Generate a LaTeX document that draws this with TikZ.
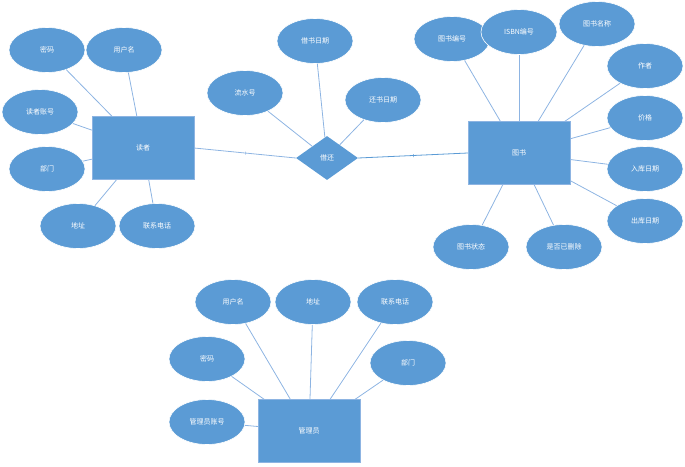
\documentclass[tikz,border=0pt]{standalone}
\usepackage{fontspec}
\setmainfont{Noto Sans CJK SC}
\usetikzlibrary{shapes.geometric}
\definecolor{erblue}{HTML}{5B9BD5}
\definecolor{erline}{HTML}{8DB4E2}
\tikzset{attr/.style={ellipse,fill=erblue,draw=white,line width=0.6pt,minimum width=76pt,minimum height=45pt,text=white,font=\scriptsize},
	entity/.style={rectangle,fill=erblue,draw=erline,minimum width=102pt,minimum height=63pt,text=white,font=\scriptsize},
	rel/.style={diamond,fill=erblue,minimum width=62pt,minimum height=44pt,aspect=1.4,inner sep=0pt,text=white,font=\scriptsize},
	link/.style={erline,line width=0.8pt}}
\begin{document}
\begin{tikzpicture}[x=1pt,y=-1pt]
	\useasboundingbox (0,0) rectangle (685,466);
	% entities
	\node[entity] (reader) at (143,148) {读者};
	\node[entity] (book) at (519,153) {图书};
	\node[entity] (admin) at (309,431) {管理员};
	\node[rel] (borrow) at (327,158) {借还};
	% reader attributes
	\node[attr] (rpwd) at (47,50) {密码};
	\node[attr] (rname) at (124,50) {用户名};
	\node[attr] (rid) at (40,112) {读者账号};
	\node[attr] (rdept) at (47,169) {部门};
	\node[attr] (raddr) at (78,226) {地址};
	\node[attr] (rtel) at (157,226) {联系电话};
	% borrow attributes
	\node[attr] (serial) at (245,93) {流水号};
	\node[attr] (bdate) at (315,41) {借书日期};
	\node[attr] (rdate) at (383,100) {还书日期};
	% book attributes
	\node[attr] (bno) at (452,39) {图书编号};
	\node[attr] (isbn) at (519,32) {ISBN编号};
	\node[attr] (btitle) at (597,24) {图书名称};
	\node[attr] (author) at (645,66) {作者};
	\node[attr] (price) at (645,118) {价格};
	\node[attr] (indate) at (645,169) {入库日期};
	\node[attr] (outdate) at (645,221) {出库日期};
	\node[attr] (bstate) at (471,247) {图书状态};
	\node[attr] (bdel) at (564,247) {是否已删除};
	% admin attributes
	\node[attr] (aname) at (233,302) {用户名};
	\node[attr] (aaddr) at (313,302) {地址};
	\node[attr] (atel) at (395,302) {联系电话};
	\node[attr] (apwd) at (207,359) {密码};
	\node[attr] (adept) at (408,363) {部门};
	\node[attr] (aid) at (207,422) {管理员账号};
	% links
	\foreach \a in {rpwd,rname,rid,rdept,raddr,rtel}
		\draw[link] (reader) -- (\a);
	\foreach \a in {serial,bdate,rdate}
		\draw[link] (borrow) -- (\a);
	\foreach \a in {bno,isbn,btitle,author,price,indate,outdate,bstate,bdel}
		\draw[link] (book) -- (\a);
	\foreach \a in {aname,aaddr,atel,apwd,adept,aid}
		\draw[link] (admin) -- (\a);
	\draw[link] (reader.east) -- node[pos=0.5,inner sep=0pt,minimum height=3pt,draw=erline,minimum width=0pt]{} (borrow.west);
	\draw[link,erblue] (borrow.east) -- node[pos=0.5,inner sep=0pt,minimum height=3pt,draw=erblue,minimum width=0pt]{} (book.west);
\end{tikzpicture}
\end{document}
